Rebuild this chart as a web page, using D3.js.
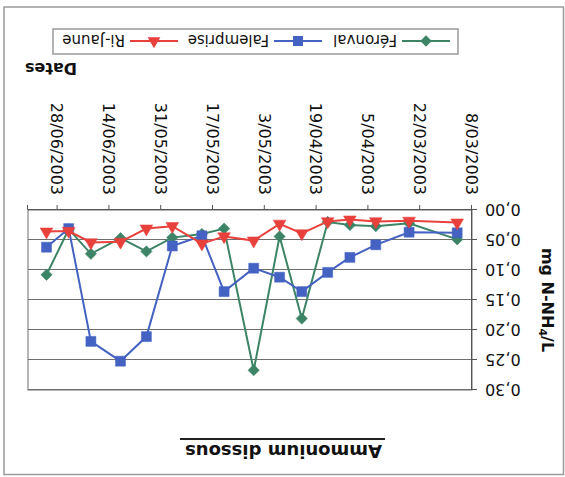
<!DOCTYPE html>
<html><head><meta charset="utf-8">
<script src="https://cdn.jsdelivr.net/npm/d3@7"></script>
<style>body{margin:0;background:#fff;overflow:hidden}</style>
</head><body>
<svg id="c" width="565" height="477"></svg>
<script>
// ---- data ----
const sampleDates = ["2003-03-12","2003-03-25","2003-04-03","2003-04-10","2003-04-16","2003-04-23","2003-04-29","2003-05-06","2003-05-14","2003-05-20","2003-05-28","2003-06-04","2003-06-11","2003-06-19","2003-06-25","2003-07-01"];
const feronval   = [0.049,0.022,0.027,0.025,0.020,0.181,0.044,0.267,0.031,0.040,0.046,0.069,0.047,0.073,0.032,0.108];
const falemprise = [0.038,0.037,0.058,0.079,0.104,0.136,0.112,0.097,0.136,0.043,0.060,0.211,0.252,0.219,0.031,0.062];
const riJaune    = [0.021,0.018,0.019,0.016,0.019,0.039,0.023,0.051,0.044,0.056,0.027,0.031,0.053,0.054,0.035,0.036];
const seriesNames = ["Féronval","Falemprise","Ri-Jaune"];
const xTickDates  = ["2003-03-08","2003-03-22","2003-04-05","2003-04-19","2003-05-03","2003-05-17","2003-05-31","2003-06-14","2003-06-28"];
const xTickLabels = ["8/03/2003","22/03/2003","5/04/2003","19/04/2003","3/05/2003","17/05/2003","31/05/2003","14/06/2003","28/06/2003"];
const yTicks = [0,0.05,0.10,0.15,0.20,0.25,0.30];
const xDomain = ["2003-03-08","2003-07-06"];
const title = "Ammonium dissous";
const xTitle = "Dates";

// ---- setup ----
const W = 565, H = 477;
const FONT = "'DejaVu Sans', sans-serif";
const parse = d3.timeParse("%Y-%m-%d");
const colors = ["#3d8466", "#4462c2", "#e8413c"];
const shapes = ["diamond", "square", "triangle"];
const seriesVals = [feronval, falemprise, riJaune];

const plot = {l: 93, r: 537, t: 87, b: 267};
const x = d3.scaleTime().domain(xDomain.map(parse)).range([plot.l, plot.r]);
const y = d3.scaleLinear().domain([0, 0.30]).range([plot.b, plot.t]);

const svg = d3.select("#c");
svg.append("rect").attr("width", W).attr("height", H).attr("fill", "#fff");
// whole chart is drawn upside down, as in the reference
const g = svg.append("g").attr("transform", `rotate(180 ${W/2} ${H/2})`);

// outer frame
g.append("rect").attr("x", 1.5).attr("y", 2.5).attr("width", 559.5).attr("height", 467.5)
  .attr("fill", "none").attr("stroke", "#9a9a9a").attr("stroke-width", 1.5);

// gridlines
g.append("g").attr("transform", `translate(${plot.l},0)`)
  .call(d3.axisLeft(y).tickValues(yTicks).tickSize(-(plot.r - plot.l)).tickFormat(""))
  .call(s => s.select(".domain").remove())
  .call(s => s.selectAll("line").attr("stroke", "#6e6e6e").attr("stroke-width", 1));

// plot border
g.append("rect").attr("x", plot.l).attr("y", plot.t).attr("width", plot.r - plot.l).attr("height", plot.b - plot.t)
  .attr("fill", "none").attr("stroke", "#6e6e6e").attr("stroke-width", 1);

// y axis
const yAx = g.append("g").attr("transform", `translate(${plot.l},0)`)
  .call(d3.axisLeft(y).tickValues(yTicks).tickSize(5).tickPadding(8)
        .tickFormat(d => d3.format(".2f")(d).replace(".", ",")));
yAx.select(".domain").attr("stroke", "#555");
yAx.selectAll("line").attr("stroke", "#555");
yAx.selectAll("text").attr("font-family", FONT).attr("font-size", 16).attr("fill", "#111");

// x axis
const xAx = g.append("g").attr("transform", `translate(0,${plot.b})`)
  .call(d3.axisBottom(x).tickValues(xTickDates.map(parse)).tickSize(5)
        .tickFormat((d, i) => xTickLabels[i]));
xAx.select(".domain").attr("stroke", "#555");
xAx.selectAll("line").attr("stroke", "#555");
xAx.selectAll("text")
  .attr("font-family", FONT).attr("font-size", 16).attr("fill", "#111")
  .attr("text-anchor", "end")
  .attr("x", -15).attr("y", 0).attr("dy", "0.35em")
  .attr("transform", "rotate(-90)");

// series
const symbolPath = (shape, size) => {
  if (shape === "triangle") return d3.symbol(d3.symbolTriangle, 70)();
  return d3.symbol(d3.symbolSquare, size)();
};
seriesVals.forEach((vals, si) => {
  const data = vals.map((v, i) => ({d: parse(sampleDates[i]), v}));
  g.append("path").datum(data)
    .attr("fill", "none").attr("stroke", colors[si]).attr("stroke-width", 2)
    .attr("d", d3.line().x(p => x(p.d)).y(p => y(p.v)));
  g.append("g").selectAll("path").data(data).join("path")
    .attr("d", shapes[si] === "diamond" ? symbolPath("square", 64) : symbolPath(shapes[si], 100))
    .attr("transform", p => `translate(${x(p.d)},${y(p.v)})` + (shapes[si] === "diamond" ? " rotate(45)" : ""))
    .attr("fill", colors[si]).attr("stroke", colors[si]).attr("stroke-width", 0.5);
});

// y title
g.append("text")
  .attr("transform", `translate(23,${(plot.t + plot.b) / 2}) rotate(-90)`)
  .attr("text-anchor", "middle").attr("font-family", FONT).attr("font-size", 16)
  .attr("font-weight", "bold").attr("fill", "#111")
  .call(t => {
    t.append("tspan").text("mg N-NH");
    t.append("tspan").text("4").attr("font-size", 11).attr("baseline-shift", "-25%");
    t.append("tspan").text("/L");
  });

// title
const tt = g.append("text").attr("x", 281.5).attr("y", 32).attr("text-anchor", "middle")
  .attr("font-family", FONT).attr("font-size", 18).attr("font-weight", "bold").attr("fill", "#111")
  .text(title);
g.append("line").attr("x1", 180).attr("x2", 385).attr("y1", 38).attr("y2", 38)
  .attr("stroke", "#222").attr("stroke-width", 2);

// x title
g.append("text").attr("x", 488).attr("y", 414).attr("font-family", FONT).attr("font-size", 16)
  .attr("font-weight", "bold").attr("fill", "#111").text(xTitle);

// legend
const lg = g.append("g");
lg.append("rect").attr("x", 107).attr("y", 423).attr("width", 405).attr("height", 25)
  .attr("fill", "#fff").attr("stroke", "#9a9a9a").attr("stroke-width", 1.5);
const legX = [115, 243, 387];
seriesNames.forEach((name, si) => {
  const sx = legX[si], cy = 436;
  lg.append("line").attr("x1", sx).attr("x2", sx + 48).attr("y1", cy).attr("y2", cy)
    .attr("stroke", colors[si]).attr("stroke-width", 2);
  lg.append("path")
    .attr("d", shapes[si] === "diamond" ? symbolPath("square", 64) : symbolPath(shapes[si], 100))
    .attr("transform", `translate(${sx + 24},${cy})` + (shapes[si] === "diamond" ? " rotate(45)" : ""))
    .attr("fill", colors[si]);
  lg.append("text").attr("x", sx + 53).attr("y", cy).attr("dy", "0.38em")
    .attr("font-family", FONT).attr("font-size", 15).attr("fill", "#111").text(name);
});
</script>
</body></html>
